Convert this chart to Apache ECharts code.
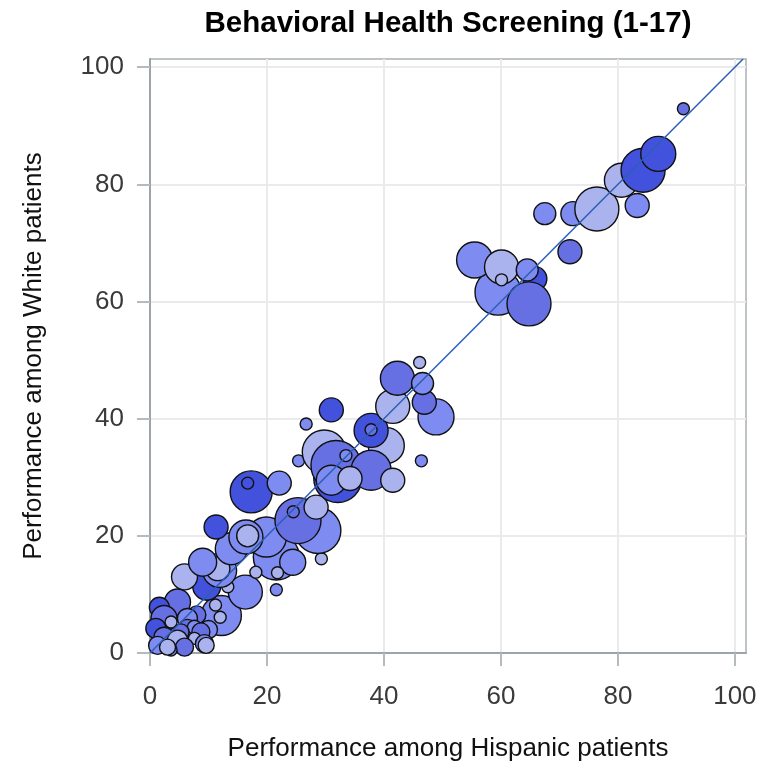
<!DOCTYPE html>
<html><head><meta charset="utf-8">
<script src="https://cdn.jsdelivr.net/npm/echarts@6/dist/echarts.min.js"></script>
<style>html,body{margin:0;padding:0;background:#fff}#c{width:761px;height:762px}</style>
</head><body><div id="c"></div>
<script>
const titleText = 'Behavioral Health Screening (1-17)';
const xName = 'Performance among Hispanic patients';
const yName = 'Performance among White patients';
const tickValues = [0, 20, 40, 60, 80, 100];
const refLine = [0, 101.4];

// performance among Hispanic patients (x)
const hispanic = [
  12.2, 16.3, 9.7, 5.9, 4.7, 1.6, 2.4, 1.0, 8.0, 10.0, 12.0, 11.2, 13.3, 3.6, 6.4, 6.4, 7.6, 5.3, 8.7, 2.4, 4.7, 7.6, 9.3, 9.6, 1.3, 5.9, 3.6, 3.0,
  21.6, 11.9, 11.6, 9.0, 13.9, 24.4, 18.1, 21.8, 21.6, 29.3, 28.7, 19.9, 16.4, 16.7, 25.3, 24.5, 28.4, 11.3, 17.3, 16.7, 22.1, 25.4,
  32.1, 29.8, 40.4, 31.8, 37.8, 31.0, 34.2, 41.5, 33.5, 46.4, 37.8, 37.8, 31.0, 26.7, 41.5, 42.3, 48.9, 46.9, 46.6, 46.1,
  65.8, 59.5, 55.5, 60.1, 60.1, 64.5, 64.8, 71.8, 67.5, 72.3, 76.4, 83.3, 80.6, 84.3, 86.9, 91.2
];
// performance among White patients (y)
const white = [
  6.4, 10.4, 11.4, 13.0, 8.7, 7.8, 5.9, 4.2, 6.5, 4.0, 6.1, 8.2, 11.3, 5.3, 5.9, 4.2, 4.4, 3.6, 3.6, 2.7, 2.2, 2.5, 1.6, 1.3, 1.3, 1.0, 0.5, 1.0,
  16.4, 14.1, 14.4, 15.5, 17.8, 15.5, 13.8, 13.7, 10.8, 16.1, 20.9, 19.8, 19.8, 20.0, 22.6, 24.1, 24.9, 21.5, 27.5, 29.0, 29.0, 32.8,
  29.8, 34.3, 35.4, 32.0, 31.2, 29.5, 29.8, 29.5, 33.7, 32.8, 38.0, 38.1, 41.5, 39.1, 42.1, 46.9, 40.3, 42.8, 46.0, 49.6,
  63.9, 61.6, 67.1, 65.9, 63.7, 65.4, 59.6, 68.5, 75.0, 75.0, 75.8, 76.4, 80.7, 82.4, 85.2, 92.9
];
// bubble size variable (patient volume)
const volume = [
  1600, 1156, 784, 676, 676, 400, 676, 400, 324, 324, 144, 144, 144, 144, 400, 324, 196, 256, 324, 400, 400, 144, 324, 256, 324, 324, 144, 256,
  2116, 1156, 576, 784, 1024, 676, 144, 144, 144, 144, 2116, 1600, 1156, 484, 2116, 144, 576, 576, 1764, 144, 576, 144,
  2304, 1936, 1296, 2500, 1600, 900, 576, 576, 144, 144, 1156, 144, 576, 144, 1156, 1156, 1296, 576, 484, 144,
  576, 2116, 1296, 1156, 144, 484, 1936, 576, 484, 576, 1936, 576, 1156, 1936, 1225, 144
];
// colour group (1 = lightest ... 4 = darkest)
const group = [
  2, 2, 4, 1, 3, 4, 3, 4, 3, 2, 1, 1, 1, 1, 2, 3, 2, 3, 3, 3, 1, 1, 2, 1, 2, 3, 2, 1,
  2, 2, 1, 2, 2, 2, 1, 1, 2, 1, 2, 2, 2, 1, 3, 3, 1, 4, 4, 4, 2, 2,
  4, 1, 1, 3, 3, 2, 1, 1, 2, 2, 4, 3, 4, 2, 1, 3, 2, 3, 2, 1,
  4, 2, 2, 1, 1, 2, 3, 3, 2, 2, 1, 2, 1, 4, 4, 3
];
const palette = { 1: '#aab3ee', 2: '#7e8bf0', 3: '#6670e2', 4: '#4352dc' };

const FONT = '"Liberation Sans", Arial, sans-serif';
const points = hispanic.map((x, i) => ({
  value: [x, white[i], volume[i], group[i]],
  itemStyle: { color: palette[group[i]] }
}));

const chart = echarts.init(document.getElementById('c'), null, { renderer: 'canvas' });
chart.setOption({
  animation: false,
  backgroundColor: '#ffffff',
  graphic: [{
    type: 'text', x: 448, y: 24,
    style: { text: titleText, fontSize: 29.5, fontWeight: 'bold', fontFamily: FONT, fill: '#000', align: 'center', verticalAlign: 'middle' }
  }],
  grid: {
    left: 150, right: 15, top: 59, bottom: 109, outerBoundsMode: 'none', containLabel: false,
    show: true, borderColor: '#a9b0b4', borderWidth: 1.5, backgroundColor: 'transparent'
  },
  xAxis: {
    type: 'value', min: 0, max: 101.9,
    name: xName, nameLocation: 'middle', nameGap: 83,
    nameTextStyle: { fontSize: 26, color: '#111', fontFamily: FONT },
    axisLine: { show: true, onZero: false, lineStyle: { color: '#9da5aa', width: 2 } },
    axisTick: { show: true, length: 13, customValues: tickValues, lineStyle: { color: '#b4bbbf', width: 2 } },
    axisLabel: { customValues: tickValues, margin: 31, fontSize: 26, color: '#3a3a3a', fontFamily: FONT },
    splitLine: { show: true, lineStyle: { color: '#ebebeb', width: 2 } }
  },
  yAxis: {
    type: 'value', min: 0, max: 101.4,
    name: yName, nameLocation: 'middle', nameGap: 103,
    nameTextStyle: { fontSize: 26, color: '#111', fontFamily: FONT },
    axisLine: { show: true, onZero: false, lineStyle: { color: '#9da5aa', width: 2 } },
    axisTick: { show: true, length: 13, customValues: tickValues, lineStyle: { color: '#b4bbbf', width: 2 } },
    axisLabel: { customValues: tickValues, margin: 26, fontSize: 26, color: '#3a3a3a', fontFamily: FONT },
    splitLine: { show: true, lineStyle: { color: '#ebebeb', width: 2 } }
  },
  series: [
    {
      type: 'scatter', z: 3,
      data: points,
      symbolSize: v => Math.sqrt(v[2]),
      itemStyle: { borderColor: '#111', borderWidth: 1.4, opacity: 1 },
      emphasis: { disabled: true }
    },
    {
      type: 'line', z: 5, silent: true, symbol: 'none',
      data: [[refLine[0], refLine[0]], [refLine[1], refLine[1]]],
      lineStyle: { color: '#2a5fb5', width: 1.5 }
    }
  ]
});
</script>
</body></html>
